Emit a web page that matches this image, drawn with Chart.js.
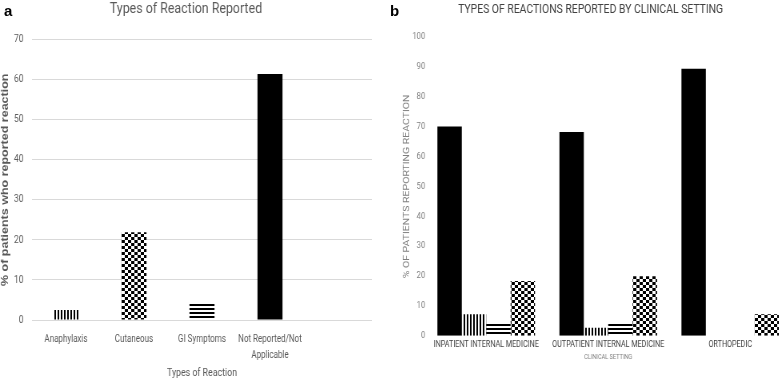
<!DOCTYPE html>
<html>
<head>
<meta charset="utf-8">
<script src="https://cdn.jsdelivr.net/npm/chart.js@4.4.1/dist/chart.umd.min.js"></script>
<style>
  html, body { margin: 0; padding: 0; background: #fff; }
  body { width: 779px; height: 381px; position: relative; overflow: hidden; }
  /* the source figure is squeezed sideways, so squeeze the canvases the same way */
  .panel { position: absolute; top: 0; height: 381px; transform: scaleX(0.8); transform-origin: 0 0; }
  #wrapA { left: 0; width: 475px; }
  #wrapB { left: 390px; width: 512px; }
  .tag { position: absolute; top: 2px; font: bold 15px "Liberation Sans", Arial, sans-serif; color: #000; }
</style>
</head>
<body>
<div class="panel" id="wrapA"><canvas id="reactions"></canvas></div>
<div class="panel" id="wrapB"><canvas id="bySetting"></canvas></div>
<div class="tag" style="left:4px">a</div>
<div class="tag" style="left:390px">b</div>
<script>
const reactionTypes = [ 'Anaphylaxis', 'Cutaneous', 'GI Symptoms', ['Not Reported/Not', 'Applicable'] ]
const reactionPct = [ 2.5, 21.9, 4.1, 61.4 ]

const settings = [ 'INPATIENT INTERNAL MEDICINE', 'OUTPATIENT INTERNAL MEDICINE', 'ORTHOPEDIC' ]
const notReportedPct = [ 70.1, 68.2, 89.4 ]
const anaphylaxisPct = [ 7.2, 2.7, 0 ]
const giPct = [ 4.4, 3.9, 0 ]
const cutaneousPct = [ 18.3, 19.9, 7.2 ]

const FONT = 'Roboto, "Liberation Sans", sans-serif'

// little fill patterns like the excel ones
function makePattern (kind) {
  const c = document.createElement('canvas')
  const ctx = c.getContext('2d')
  if (kind === 'vert') {
    c.width = 4; c.height = 4
    ctx.fillStyle = '#fff'; ctx.fillRect(0, 0, 4, 4)
    ctx.fillStyle = '#000'; ctx.fillRect(0, 0, 2, 4)
  } else if (kind === 'horiz') {
    c.width = 4; c.height = 4
    ctx.fillStyle = '#fff'; ctx.fillRect(0, 0, 4, 4)
    ctx.fillStyle = '#000'; ctx.fillRect(0, 0, 4, 2)
  } else {
    c.width = 8; c.height = 6
    ctx.fillStyle = '#fff'; ctx.fillRect(0, 0, 8, 6)
    ctx.fillStyle = '#000'
    ctx.fillRect(0, 0, 4, 3)
    ctx.fillRect(4, 3, 4, 3)
  }
  return ctx.createPattern(c, 'repeat')
}

const vertFill = makePattern('vert')
const horizFill = makePattern('horiz')
const checkFill = makePattern('check')

Chart.defaults.animation = false
Chart.defaults.plugins.tooltip.enabled = false
Chart.defaults.plugins.legend.display = false

let reactions = new Chart(document.querySelector('#reactions'), {
  type: 'bar',
  data: {
    labels: reactionTypes.concat(['']),
    datasets: [{
      data: reactionPct,
      backgroundColor: [ vertFill, checkFill, horizFill, '#000' ],
      categoryPercentage: 1,
      barPercentage: 0.368
    }]
  },
  options: {
    responsive: true,
    maintainAspectRatio: false,
    layout: { padding: { left: 0, right: 10, top: 0, bottom: 0 } },
    scales: {
      x: {
        grid: { display: false, drawTicks: false },
        border: { display: false },
        ticks: {
          color: '#595959',
          padding: 11,
          maxRotation: 0,
          autoSkip: false,
          font: { family: FONT, size: 10, lineHeight: 1.6 }
        },
        title: {
          display: true,
          text: 'Types of Reaction',
          color: '#595959',
          padding: { top: 0, bottom: 1 },
          font: { family: FONT, size: 11 }
        },
        afterFit: (scale) => { scale.height = 61 }
      },
      y: {
        min: 0,
        max: 70,
        ticks: {
          stepSize: 10,
          color: '#595959',
          padding: 10.6,
          font: { family: FONT, size: 10.5 }
        },
        grid: { color: '#d9d9d9', drawTicks: false },
        border: { display: false },
        title: {
          display: true,
          text: '% of patients who reported reaction',
          color: '#595959',
          padding: { top: 0.5, bottom: 0 },
          font: { family: '"Liberation Sans", Arial, sans-serif', size: 12.5, weight: 'bold', lineHeight: 1 }
        },
        afterFit: (scale) => { scale.width = 40 }
      }
    },
    plugins: {
      title: {
        display: true,
        text: 'Types of Reaction Reported',
        color: '#595959',
        padding: { top: 0, bottom: 21 },
        font: { family: FONT, size: 15.5, weight: 'normal' }
      }
    }
  }
})

let bySetting = new Chart(document.querySelector('#bySetting'), {
  type: 'bar',
  data: {
    labels: settings,
    datasets: [
      { label: 'Not Reported/Not Applicable', data: notReportedPct, backgroundColor: '#000' },
      { label: 'Anaphylaxis', data: anaphylaxisPct, backgroundColor: vertFill },
      { label: 'GI Symptoms', data: giPct, backgroundColor: horizFill },
      { label: 'Cutaneous', data: cutaneousPct, backgroundColor: checkFill }
    ]
  },
  options: {
    responsive: true,
    maintainAspectRatio: false,
    datasets: { bar: { categoryPercentage: 0.8, barPercentage: 1 } },
    layout: { padding: { left: 0, right: 10.4, top: 0, bottom: 0 } },
    scales: {
      x: {
        grid: { display: false, drawTicks: false },
        border: { display: false },
        ticks: {
          color: '#404040',
          padding: 4,
          maxRotation: 0,
          autoSkip: false,
          font: { family: FONT, size: 9 }
        },
        title: {
          display: true,
          text: 'CLINICAL SETTING',
          color: '#7f7f7f',
          padding: { top: 0, bottom: 20 },
          font: { family: FONT, size: 7 }
        },
        afterFit: (scale) => { scale.height = 45.3 }
      },
      y: {
        min: 0,
        max: 100,
        ticks: {
          stepSize: 10,
          color: '#7f7f7f',
          padding: 0,
          font: { family: FONT, size: 9.5 }
        },
        grid: { display: false, drawTicks: false },
        border: { display: false },
        title: {
          display: true,
          text: '% OF PATIENTS REPORTING REACTION',
          color: '#7f7f7f',
          padding: { top: 15, bottom: 0 },
          font: { family: FONT, size: 10.5, lineHeight: 1.2 }
        },
        afterFit: (scale) => { scale.width = 44 }
      }
    },
    plugins: {
      title: {
        display: true,
        text: 'TYPES OF REACTIONS REPORTED BY CLINICAL SETTING',
        color: '#404040',
        padding: { top: 1.5, bottom: 20 },
        font: { family: FONT, size: 13, weight: 'normal' }
      }
    }
  }
})
</script>
</body>
</html>
